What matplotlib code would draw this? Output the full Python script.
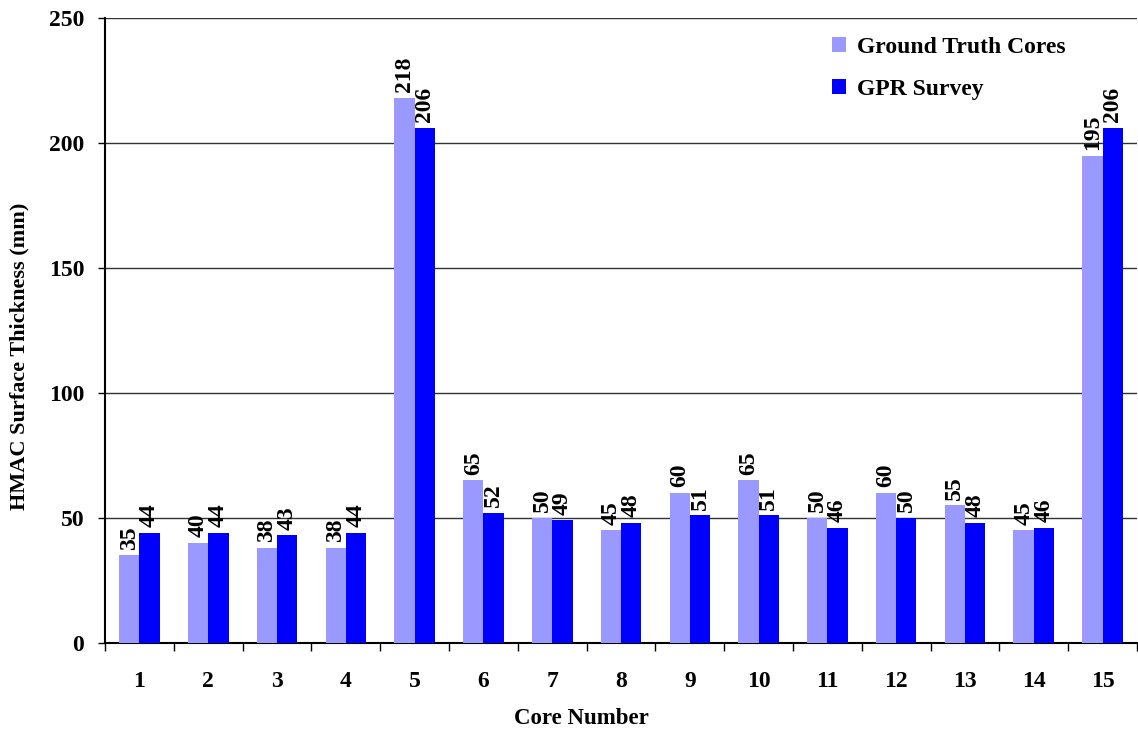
import matplotlib
matplotlib.use("Agg")
import matplotlib.pyplot as plt
import numpy as np

cores = ["1", "2", "3", "4", "5", "6", "7", "8", "9", "10", "11", "12", "13", "14", "15"]
ground_truth = [35, 40, 38, 38, 218, 65, 50, 45, 60, 65, 50, 60, 55, 45, 195]
gpr_survey = [44, 44, 43, 44, 206, 52, 49, 48, 51, 51, 46, 50, 48, 46, 206]
y_ticks = [0, 50, 100, 150, 200, 250]

plt.rcParams["font.family"] = ["Liberation Serif", "DejaVu Serif"]
plt.rcParams["font.weight"] = "bold"

fig = plt.figure(figsize=(11.38, 7.36), dpi=100)
ax = fig.add_axes([0.0923, 0.1264, 0.9068, 0.8491])

x = np.arange(len(cores))
w = 0.295
c_gt = "#9999FF"
c_gpr = "#0000FF"

b1 = ax.bar(x - w / 2, ground_truth, w, color=c_gt, label="Ground Truth Cores", zorder=3)
b2 = ax.bar(x + w / 2, gpr_survey, w, color=c_gpr, label="GPR Survey", zorder=3)

for bars, vals in ((b1, ground_truth), (b2, gpr_survey)):
    for rect, v in zip(bars, vals):
        ax.annotate(str(v), (rect.get_x() + rect.get_width() / 2, v),
                    xytext=(0, 4), textcoords="offset points",
                    rotation=90, ha="center", va="bottom",
                    fontsize=17, fontweight="bold", zorder=4)

ax.set_xlim(-0.5, len(cores) - 0.5)
ax.set_ylim(0, 250)
ax.set_yticks(y_ticks)
ax.set_yticklabels([str(t) for t in y_ticks], fontsize=17, fontweight="bold")
ax.yaxis.grid(True, color="#333333", linewidth=1.0, zorder=0)
ax.set_axisbelow(True)

ax.set_xticks(x)
ax.set_xticklabels(cores, fontsize=17, fontweight="bold")
ax.tick_params(axis="x", which="major", length=0, pad=20)
ax.set_xticks(np.arange(-0.5, len(cores) - 0.4, 1.0), minor=True)
ax.tick_params(axis="x", which="minor", length=5.5, width=1, direction="out")
ax.tick_params(axis="y", length=5, width=1, direction="out", pad=10)

for s in ("top", "right"):
    ax.spines[s].set_visible(False)
ax.spines["left"].set_linewidth(1.5)
ax.spines["bottom"].set_linewidth(1.5)

ax.set_xlabel("Core Number", fontsize=16.5, fontweight="bold")
ax.set_ylabel("HMAC Surface Thickness (mm)", fontsize=16, fontweight="bold")
ax.xaxis.set_label_coords(0.462, -0.104)
ax.yaxis.set_label_coords(-0.073, 0.458)

leg = ax.legend(loc="upper left", bbox_to_anchor=(0.684, 1.004), frameon=False,
                prop={"size": 17, "weight": "bold"}, handlelength=0.6,
                handleheight=0.6, handletextpad=0.45, labelspacing=0.9)

fig.savefig("out.png", dpi=100)
